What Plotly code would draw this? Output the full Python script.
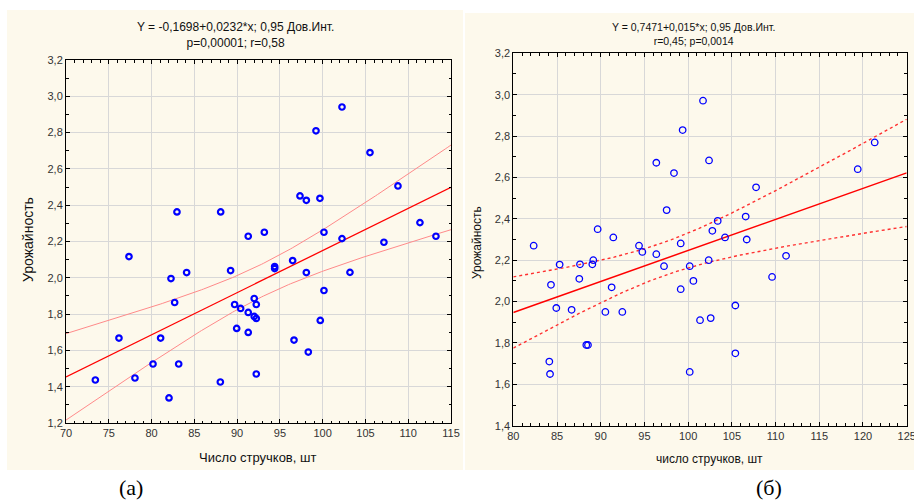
import numpy as np
import plotly.graph_objects as go

# ---------------- data: panel (а) ----------------
xa = [82.97, 88.08, 91.3, 93.18, 97.35, 98.09, 99.22, 99.68, 100.15, 102.26, 102.26, 105.53,
      107.16, 108.8, 111.37, 113.24,
      77.36, 82.27, 84.1, 82.7, 89.24, 89.71, 90.41, 91.3, 92.0, 92.24, 92.0, 92.24, 89.95,
      91.3, 94.39, 94.39, 96.49, 98.09, 103.19, 100.15, 99.72, 96.65, 98.32, 92.24, 88.04,
      82.04, 83.17, 80.17, 81.06, 76.19, 78.06, 73.43]
ya = [2.363, 2.363, 2.229, 2.251, 2.451, 2.427, 2.81, 2.438, 2.251, 2.941, 2.216, 2.69,
      2.196, 2.506, 2.304, 2.229,
      2.117, 1.996, 2.029, 1.864, 2.04, 1.853, 1.831, 1.809, 1.886, 1.853, 1.787, 1.776, 1.721,
      1.699, 2.062, 2.051, 2.095, 2.029, 2.03, 1.93, 1.765, 1.657, 1.591, 1.47, 1.426,
      1.338, 1.525, 1.525, 1.668, 1.668, 1.448, 1.437]
coef_a = (-0.1698, 0.0232)

# ---------------- data: panel (б) ----------------
xb = [82.33, 89.65, 91.44, 94.38, 96.36, 97.54, 98.38, 99.37, 99.15, 101.7, 102.39, 102.77,
      103.38, 104.22, 106.58, 106.7, 107.77, 119.4, 121.34,
      94.76, 96.36, 85.3, 87.63, 89.04, 89.15, 84.31, 87.55, 91.25, 97.24, 100.18, 102.35,
      100.6, 99.15, 111.2, 109.6, 105.4, 84.92, 86.67, 90.53, 92.47, 101.36, 102.58, 88.35,
      88.54, 84.12, 84.2, 105.4, 100.18]
yb = [2.27, 2.35, 2.31, 2.27, 2.671, 2.442, 2.621, 2.829, 2.281, 2.971, 2.682, 2.342,
      2.39, 2.31, 2.411, 2.30, 2.552, 2.64, 2.769,
      2.24, 2.229, 2.179, 2.18, 2.18, 2.2, 2.081, 2.11, 2.069, 2.171, 2.171, 2.2,
      2.10, 2.06, 2.221, 2.119, 1.981, 1.969, 1.96, 1.95, 1.95, 1.91, 1.92, 1.79,
      1.79, 1.71, 1.65, 1.75, 1.66]
coef_b = (0.7471, 0.015)

title_a = "Y = -0,1698+0,0232*x; 0,95 Дов.Инт.<br>p=0,00001; r=0,58"
title_b = "Y = 0,7471+0,015*x; 0,95 Дов.Инт.<br>r=0,45; p=0,0014"
xlabel_a = "Число стручков, шт"
xlabel_b = "число стручков, шт"
ylabel = "Урожайность"

W, H = 914, 501
T_CRIT = 2.013


def band(x, y, coef, xr):
    x = np.asarray(x); y = np.asarray(y)
    b0, b1 = coef
    n = len(x)
    res = y - (b0 + b1 * x)
    s = np.sqrt(np.sum(res ** 2) / (n - 2))
    xm = x.mean(); sxx = np.sum((x - xm) ** 2)
    xs = np.linspace(xr[0], xr[1], 200)
    yfit = b0 + b1 * xs
    se = s * np.sqrt(1.0 / n + (xs - xm) ** 2 / sxx)
    return xs, yfit, yfit - T_CRIT * se, yfit + T_CRIT * se


def px(xp):
    return xp / W


def py(yp):
    return 1 - yp / H


fig = go.Figure()

# panel a
xs, yf, lo, hi = band(xa, ya, coef_a, (70, 115))
fig.add_trace(go.Scatter(x=xs, y=hi, mode="lines", line=dict(color="#ff8a8a", width=1), xaxis="x", yaxis="y"))
fig.add_trace(go.Scatter(x=xs, y=lo, mode="lines", line=dict(color="#ff8a8a", width=1), xaxis="x", yaxis="y"))
fig.add_trace(go.Scatter(x=xs, y=yf, mode="lines", line=dict(color="#ff0000", width=1.3), xaxis="x", yaxis="y"))
fig.add_trace(go.Scatter(x=xa, y=ya, mode="markers", xaxis="x", yaxis="y",
                         marker=dict(symbol="circle-open", size=5.5, color="#0000ff", line=dict(width=2.2, color="#0000ff"))))

# panel b
xs, yf, lo, hi = band(xb, yb, coef_b, (80, 125))
fig.add_trace(go.Scatter(x=xs, y=hi, mode="lines", line=dict(color="#ff3030", width=1.4, dash="dot"), xaxis="x2", yaxis="y2"))
fig.add_trace(go.Scatter(x=xs, y=lo, mode="lines", line=dict(color="#ff3030", width=1.4, dash="dot"), xaxis="x2", yaxis="y2"))
fig.add_trace(go.Scatter(x=xs, y=yf, mode="lines", line=dict(color="#ff0000", width=1.5), xaxis="x2", yaxis="y2"))
fig.add_trace(go.Scatter(x=xb, y=yb, mode="markers", xaxis="x2", yaxis="y2",
                         marker=dict(symbol="circle-open", size=6.5, color="#0000ff", line=dict(width=1.3, color="#0000ff"))))

axis_common = dict(showline=True, linecolor="black", linewidth=1, mirror="allticks",
                   ticks="inside", ticklen=4, tickcolor="black", showgrid=True,
                   gridcolor="#d8d8d8", gridwidth=1, zeroline=False, automargin=False,
                   ticklabeloverflow="allow",
                   tickfont=dict(family="Liberation Sans, Arial", size=11, color="#333333"))

fig.update_layout(
    width=W, height=H, margin=dict(l=0, r=0, t=0, b=0, autoexpand=False),
    paper_bgcolor="white", plot_bgcolor="white", showlegend=False,
    separators=", ",
    xaxis=dict(domain=[px(66), px(451)], range=[70, 115], dtick=5, anchor="y",
               minor=dict(ticks="inside", ticklen=2.5, dtick=1, tickcolor="black", showgrid=False),
               **axis_common),
    yaxis=dict(domain=[py(423), py(60)], range=[1.2, 3.2], dtick=0.2, tickformat=".1f", anchor="x",
               minor=dict(ticks="inside", ticklen=2.5, dtick=0.1, tickcolor="black", showgrid=False),
               **axis_common),
    xaxis2=dict(domain=[px(513.3), px(906.7)], range=[80, 125], dtick=5, anchor="y2",
                minor=dict(ticks="inside", ticklen=2.5, dtick=1, tickcolor="black", showgrid=False),
                **axis_common),
    yaxis2=dict(domain=[py(425.7), py(53.3)], range=[1.4, 3.2], dtick=0.2, tickformat=".1f", anchor="x2",
                minor=dict(ticks="inside", ticklen=2.5, dtick=0.1, tickcolor="black", showgrid=False),
                **axis_common),
)

# cream panels
fig.add_shape(type="rect", xref="paper", yref="paper", x0=px(7), x1=px(463), y0=py(470), y1=py(10),
              fillcolor="#fdf9ec", line=dict(width=0), layer="below")
fig.add_shape(type="rect", xref="paper", yref="paper", x0=px(465), x1=px(914), y0=py(470), y1=py(13),
              fillcolor="#fdf9ec", line=dict(width=0), layer="below")

sans = "Liberation Sans, Arial"
ann = [
    dict(text=title_a, x=px(235), y=py(35), font=dict(family=sans, size=12, color="#111")),
    dict(text=title_b, x=px(693), y=py(34), font=dict(family=sans, size=10.5, color="#111")),
    dict(text=xlabel_a, x=px(257), y=py(457), font=dict(family=sans, size=13, color="#111")),
    dict(text=xlabel_b, x=px(709), y=py(459), font=dict(family=sans, size=12, color="#111")),
    dict(text=ylabel, x=px(28), y=py(240), textangle=-90, font=dict(family=sans, size=14, color="#111")),
    dict(text=ylabel, x=px(477), y=py(243), textangle=-90, font=dict(family=sans, size=12, color="#111")),
    dict(text="(а)", x=px(131), y=py(487), font=dict(family="Liberation Serif, Times New Roman", size=22, color="black")),
    dict(text="(б)", x=px(769), y=py(487), font=dict(family="Liberation Serif, Times New Roman", size=22, color="black")),
]
for a in ann:
    fig.add_annotation(xref="paper", yref="paper", showarrow=False, xanchor="center", yanchor="middle", **a)

fig.write_html("out.html")
